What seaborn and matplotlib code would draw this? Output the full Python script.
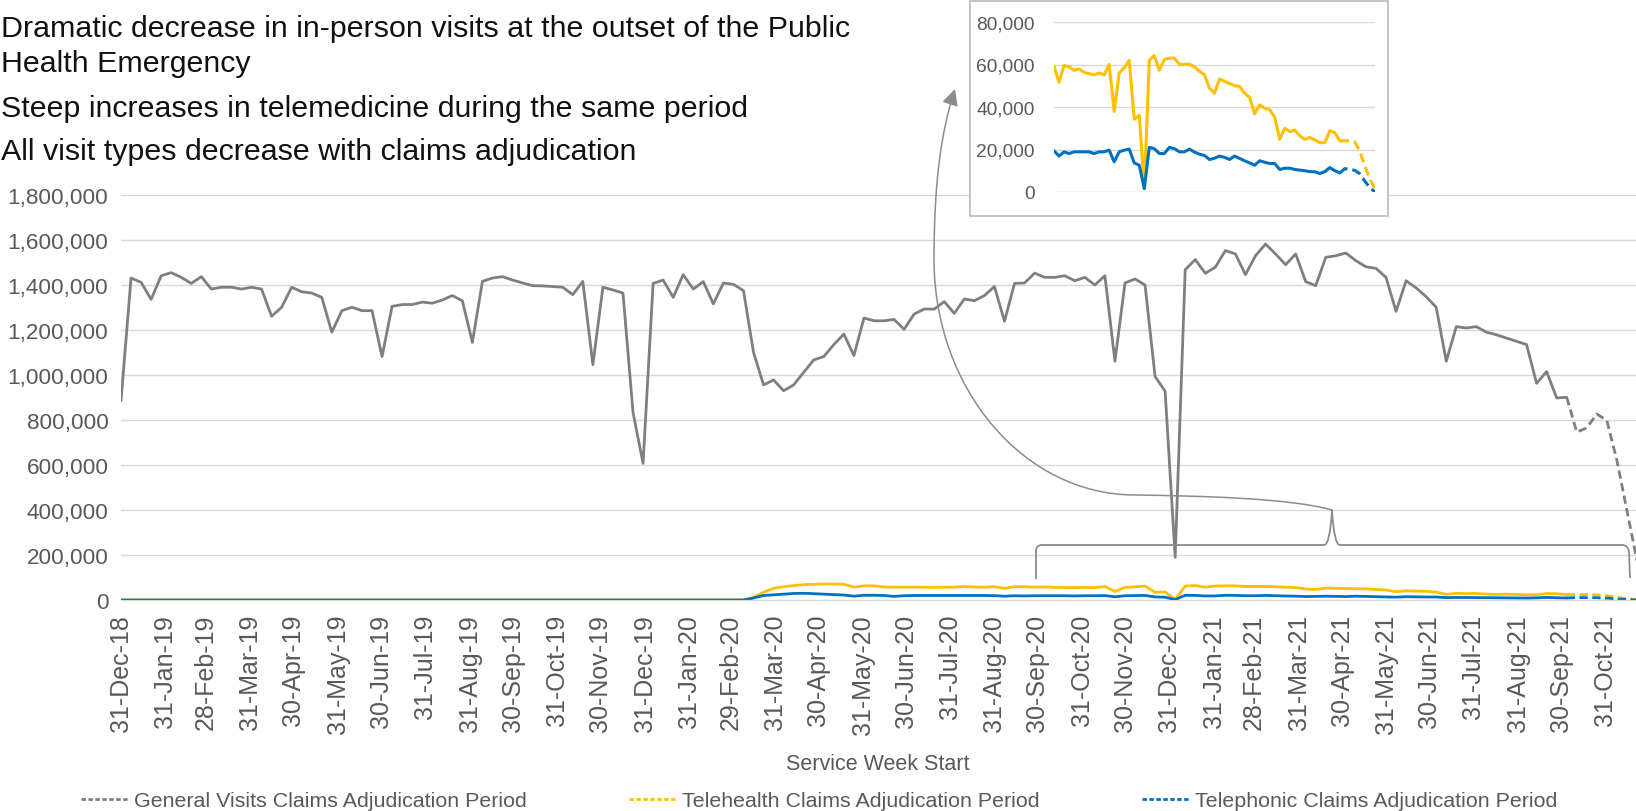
import matplotlib
matplotlib.use("Agg")
import matplotlib.pyplot as plt
import matplotlib.dates as mdates
from matplotlib.lines import Line2D
from matplotlib.patches import Rectangle, FancyArrowPatch, PathPatch
from matplotlib.path import Path
from matplotlib.transforms import Affine2D
from matplotlib.ticker import FuncFormatter, MultipleLocator
import numpy as np
import pandas as pd
import seaborn as sns

# ---------------------------------------------------------------------------
# Weekly visit counts (service week starting Monday 31-Dec-2018)
# ---------------------------------------------------------------------------
week_start = pd.date_range("2018-12-31", periods=152, freq="7D")
month_ends = pd.date_range("2018-12-31", "2021-10-31", freq=pd.offsets.MonthEnd())

general_visits = [
    886000, 1431000, 1412000, 1336000, 1441000, 1455000, 1434000, 1407000, 1437000, 1382000,
    1390000, 1390000, 1382000, 1390000, 1382000, 1261000, 1301000, 1390000, 1370000, 1364000,
    1345000, 1190000, 1286000, 1301000, 1286000, 1286000, 1082000, 1305000, 1313000, 1313000,
    1324000, 1319000, 1333000, 1353000, 1330000, 1145000, 1416000, 1431000, 1437000, 1422000,
    1409000, 1397000, 1396000, 1393000, 1390000, 1357000, 1416000, 1046000, 1390000, 1378000,
    1364000, 834000, 607000, 1407000, 1422000, 1345000, 1446000, 1382000, 1415000, 1316000,
    1409000, 1403000, 1375000, 1101000, 956000, 978000, 930000, 956000, 1012000, 1067000,
    1082000, 1135000, 1182000, 1086000, 1253000, 1241000, 1241000, 1247000, 1203000, 1271000,
    1293000, 1293000, 1326000, 1274000, 1338000, 1330000, 1353000, 1393000, 1239000, 1407000,
    1409000, 1453000, 1434000, 1434000, 1441000, 1419000, 1434000, 1400000, 1441000, 1061000,
    1409000, 1427000, 1400000, 993000, 928000, 190000, 1468000, 1513000, 1452000, 1479000,
    1553000, 1538000, 1446000, 1530000, 1582000, 1538000, 1490000, 1538000, 1415000, 1397000,
    1523000, 1530000, 1542000, 1508000, 1481000, 1474000, 1434000, 1283000, 1419000, 1387000,
    1348000, 1301000, 1061000, 1215000, 1209000, 1215000, 1190000, 1179000, 1164000, 1150000,
    1135000, 963000, 1015000, 898000, 901000, 746000, 765000, 827000, 797000, 620000,
    397000, 175000,
]

telehealth = [
    0, 0, 0, 0, 0, 0, 0, 0, 0, 0,
    0, 0, 0, 0, 0, 0, 0, 0, 0, 0,
    0, 0, 0, 0, 0, 0, 0, 0, 0, 0,
    0, 0, 0, 0, 0, 0, 0, 0, 0, 0,
    0, 0, 0, 0, 0, 0, 0, 0, 0, 0,
    0, 0, 0, 0, 0, 0, 0, 0, 0, 0,
    0, 0, 0, 12000, 34000, 52000, 59000, 64000, 68000, 70000,
    71000, 71000, 70000, 57000, 63000, 63000, 58000, 57000, 57000, 57000,
    57000, 56000, 57000, 57000, 60000, 58000, 57000, 59200, 51600, 59500,
    58900, 57300, 57900, 56300, 55700, 55100, 56000, 55100, 60000, 37900,
    56000, 58400, 61900, 34200, 36100, 1600, 62000, 64200, 57300, 62300,
    63000, 63000, 60100, 60100, 60100, 58900, 56800, 55200, 48900, 46500,
    53200, 52100, 51000, 50000, 49700, 46500, 44500, 36800, 41000, 39400,
    38700, 35200, 24800, 30000, 28400, 29200, 26400, 24800, 25700, 24500,
    23200, 23200, 28900, 27900, 24100, 24100, 24100, 23500, 19000, 12000,
    6000, 1500,
]

telephonic = [
    0, 0, 0, 0, 0, 0, 0, 0, 0, 0,
    0, 0, 0, 0, 0, 0, 0, 0, 0, 0,
    0, 0, 0, 0, 0, 0, 0, 0, 0, 0,
    0, 0, 0, 0, 0, 0, 0, 0, 0, 0,
    0, 0, 0, 0, 0, 0, 0, 0, 0, 0,
    0, 0, 0, 0, 0, 0, 0, 0, 0, 0,
    0, 0, 0, 9000, 20000, 23000, 26000, 29000, 30000, 28000,
    26000, 24000, 22000, 17000, 21000, 21000, 20000, 16000, 19000, 20000,
    20000, 20000, 20000, 20000, 20000, 20000, 20000, 19400, 16900, 18900,
    18100, 18900, 18900, 18900, 18900, 18100, 18900, 18900, 19700, 14200,
    18900, 19700, 20200, 13700, 12600, 1600, 21000, 20400, 18100, 18100,
    21000, 20400, 18900, 18900, 20200, 18800, 17800, 17200, 15300, 15900,
    16900, 16300, 15300, 16900, 15800, 14700, 13700, 12600, 14700, 14000,
    13400, 13400, 10600, 11200, 11200, 10600, 10300, 10000, 9600, 9500,
    8700, 9600, 11500, 10000, 9000, 11000, 10600, 10200, 8500, 5000,
    2000, 0,
]

series_names = ["General Visits", "Telehealth", "Telephonic"]
legend_labels = [
    "General Visits Claims Adjudication Period",
    "Telehealth Claims Adjudication Period",
    "Telephonic Claims Adjudication Period",
]
bullet_lines = [
    "Dramatic decrease in in-person visits at the outset of the Public",
    "Health Emergency",
    "Steep increases in telemedicine during the same period",
    "All visit types decrease with claims adjudication",
]
adjudication_start = 144   # first week of the claims adjudication period (dashed)
inset_start = 87           # first week shown in the telemedicine close-up

# ---------------------------------------------------------------------------
# Long-form table: solid "reported" segment and dashed "adjudication" segment
# ---------------------------------------------------------------------------
rows = []
for name, values in zip(series_names, [general_visits, telehealth, telephonic]):
    for i, (wk, v) in enumerate(zip(week_start, values)):
        if i <= adjudication_start:
            rows.append((wk, v, name, "reported", i))
        if i >= adjudication_start:
            rows.append((wk, v, name, "adjudication", i))
df = pd.DataFrame(rows, columns=["week", "visits", "series", "period", "idx"])

palette = {"General Visits": "#7F7F7F", "Telehealth": "#FFC000", "Telephonic": "#0070C0"}
dashes = {"reported": "", "adjudication": (3, 1.6)}

# ---------------------------------------------------------------------------
sns.set_style("white")
plt.rcParams["font.family"] = ["Liberation Sans", "DejaVu Sans"]

W, H = 1636, 812
fig = plt.figure(figsize=(W / 100, H / 100), dpi=100)
fig.patch.set_facecolor("white")

# pixel-space transform (origin top-left) for the callout shapes
pix = Affine2D().scale(1 / W, -1 / H).translate(0, 1) + fig.transFigure

ax = fig.add_axes([121 / W, 1 - 601 / H, 1516 / W, 405 / H])
sns.lineplot(
    data=df, x="week", y="visits", hue="series", style="period",
    hue_order=series_names, style_order=["reported", "adjudication"],
    palette=palette, dashes=dashes, estimator=None, units="period",
    linewidth=2.0, legend=False, ax=ax,
)
ax.set_xlim(week_start[0], week_start[-1])
ax.set_ylim(0, 1_800_000)
ax.yaxis.set_major_locator(MultipleLocator(200_000))
ax.yaxis.set_major_formatter(FuncFormatter(lambda v, p: f"{int(v):,}"))
ax.set_xticks(month_ends.to_pydatetime())
ax.xaxis.set_major_formatter(mdates.DateFormatter("%d-%b-%y"))
ax.grid(axis="y", color="#D9D9D9", linewidth=1.0)
ax.grid(axis="x", visible=False)
for side in ["top", "right", "left"]:
    ax.spines[side].set_visible(False)
ax.spines["bottom"].set_color("#D9D9D9")
ax.tick_params(axis="y", length=0, pad=9, labelsize=16.2, labelcolor="#595959")
ax.tick_params(axis="x", length=0, pad=10, labelsize=18, labelcolor="#595959",
               labelrotation=90)
ax.set_xlabel("")
ax.set_ylabel("")

fig.text(878 / W, 1 - 765 / H, "Service Week Start", ha="center", va="center",
         fontsize=15.5, color="#595959")

# ---------------------------------------------------------------------------
# Close-up of telemedicine visits
# ---------------------------------------------------------------------------
fig.add_artist(Rectangle((970 / W, 1 - 217 / H), 418 / W, 215 / H,
                         transform=fig.transFigure, facecolor="white",
                         edgecolor="#BFBFBF", linewidth=1.3, zorder=1))

inset = fig.add_axes([1054 / W, 1 - 193 / H, 321 / W, 170 / H], zorder=2)
inset.patch.set_alpha(0)
tele = df[(df["series"] != "General Visits") & (df["idx"] >= inset_start)]
sns.lineplot(
    data=tele, x="week", y="visits", hue="series", style="period",
    hue_order=["Telehealth", "Telephonic"], style_order=["reported", "adjudication"],
    palette=palette, dashes=dashes, estimator=None, units="period",
    linewidth=2.2, legend=False, ax=inset,
)
inset.set_xlim(week_start[inset_start], week_start[-1])
inset.set_ylim(0, 80_000)
inset.yaxis.set_major_locator(MultipleLocator(20_000))
inset.yaxis.set_major_formatter(FuncFormatter(lambda v, p: f"{int(v):,}"))
inset.set_xticks([])
inset.grid(axis="y", color="#D9D9D9", linewidth=1.0)
for side in ["top", "right", "left", "bottom"]:
    inset.spines[side].set_visible(False)
inset.tick_params(axis="y", length=0, pad=14, labelsize=13.8, labelcolor="#595959")
inset.set_xlabel("")
inset.set_ylabel("")

# brace under the close-up period
brace = Path(
    [(1036, 580), (1036, 552), (1036, 546), (1042, 546), (1324, 546),
     (1330, 546), (1332, 511), (1334, 546), (1340, 546), (1622, 546),
     (1628, 546), (1629, 553), (1630, 579)],
    [Path.MOVETO, Path.LINETO, Path.CURVE3, Path.CURVE3, Path.LINETO,
     Path.CURVE3, Path.CURVE3, Path.CURVE3, Path.CURVE3, Path.LINETO,
     Path.CURVE3, Path.CURVE3, Path.LINETO],
)
fig.add_artist(PathPatch(brace, transform=pix, facecolor="none",
                         edgecolor="#8C8C8C", linewidth=1.3, zorder=3))

# curved connector from the brace to the close-up
connector = Path(
    [(1332, 511), (1290, 499), (1200, 497), (1135, 496),
     (1024, 496), (934, 390), (934, 260),
     (934, 180), (942, 130), (955, 90)],
    [Path.MOVETO, Path.CURVE4, Path.CURVE4, Path.CURVE4,
     Path.CURVE4, Path.CURVE4, Path.CURVE4,
     Path.CURVE4, Path.CURVE4, Path.CURVE4],
)
fig.add_artist(FancyArrowPatch(path=connector, transform=pix,
                               arrowstyle="-|>,head_length=0.7,head_width=0.35",
                               mutation_scale=14, color="#8C8C8C",
                               linewidth=1.1, zorder=3))

# ---------------------------------------------------------------------------
# Bullet text
# ---------------------------------------------------------------------------
for txt, y in zip(bullet_lines, [37, 72, 117, 160]):
    fig.text(1 / W, 1 - y / H, txt, ha="left", va="baseline", fontsize=21.9,
             color="#111111")

# ---------------------------------------------------------------------------
# Legend (adjudication-period series)
# ---------------------------------------------------------------------------
handles = [Line2D([], [], color=palette[n], linewidth=2.0, linestyle=(0, (1.6, 0.9)))
           for n in series_names]
fig.legend(handles, legend_labels, loc="center left",
           bbox_to_anchor=(81 / W, 1 - 802 / H), ncol=3, frameon=False,
           fontsize=15.4, handlelength=2.2, handletextpad=0.3, columnspacing=4.75,
           borderpad=0, borderaxespad=0, labelcolor="#595959")

fig.savefig("out.png", dpi=100, facecolor="white")
